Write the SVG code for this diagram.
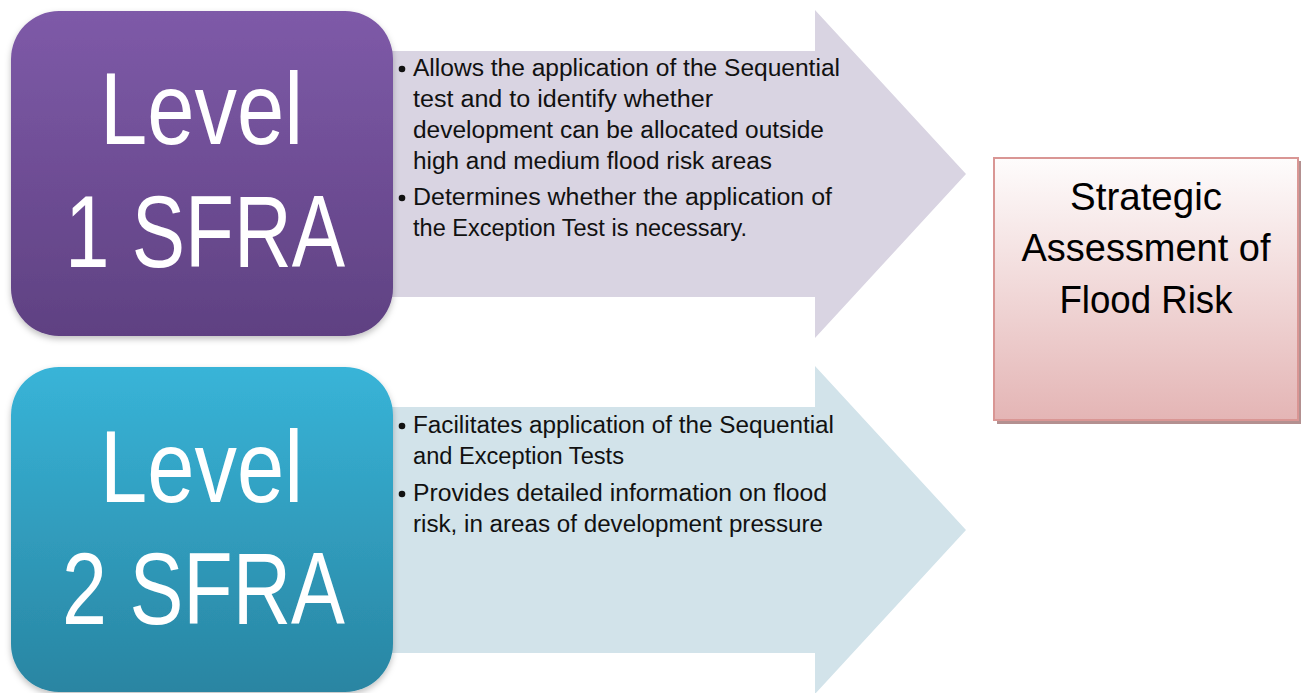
<svg xmlns="http://www.w3.org/2000/svg" width="1305" height="693" viewBox="0 0 1305 693">
  <style>
    .big { font-family: "Liberation Sans", Arial, sans-serif; font-size: 102px; fill: #ffffff; }
    .body { font-family: "Liberation Sans", Arial, sans-serif; font-size: 23px; fill: #111111; }
    .goal { font-family: "Liberation Sans", Arial, sans-serif; font-size: 39px; fill: #000000; text-anchor: middle; }
  </style>
  <defs>
    <linearGradient id="gPurple" x1="0" y1="0" x2="0" y2="1">
      <stop offset="0" stop-color="#7e5aa8"/>
      <stop offset="1" stop-color="#5f4182"/>
    </linearGradient>
    <linearGradient id="gTeal" x1="0" y1="0" x2="0" y2="1">
      <stop offset="0" stop-color="#38b4d8"/>
      <stop offset="1" stop-color="#2985a2"/>
    </linearGradient>
    <linearGradient id="gPink" x1="0" y1="0" x2="0" y2="1">
      <stop offset="0" stop-color="#fefcfc"/>
      <stop offset="1" stop-color="#e4b5b5"/>
    </linearGradient>
    <filter id="soft" x="-10%" y="-10%" width="120%" height="125%">
      <feDropShadow dx="0" dy="3" stdDeviation="3" flood-color="#000000" flood-opacity="0.25"/>
    </filter>
  </defs>

  <g id="connectors">
    <g id="arrow1">
      <path d="M390,51 H815 V10 L966,174 L815,338 V297 H390 Z" fill="#d9d4e2"/>
      <circle cx="402" cy="69" r="3.3" fill="#111"/>
      <text class="body" x="413" y="76" textLength="427" lengthAdjust="spacingAndGlyphs">Allows the application of the Sequential</text>
      <text class="body" x="413" y="107" textLength="300" lengthAdjust="spacingAndGlyphs">test and to identify whether</text>
      <text class="body" x="413" y="138" textLength="411" lengthAdjust="spacingAndGlyphs">development can be allocated outside</text>
      <text class="body" x="413" y="169" textLength="359" lengthAdjust="spacingAndGlyphs">high and medium flood risk areas</text>
      <circle cx="402" cy="198" r="3.3" fill="#111"/>
      <text class="body" x="413" y="205" textLength="419" lengthAdjust="spacingAndGlyphs">Determines whether the application of</text>
      <text class="body" x="413" y="236" textLength="334" lengthAdjust="spacingAndGlyphs">the Exception Test is necessary.</text>
    </g>
    <g id="arrow2">
      <path d="M390,407 H815 V366 L966,530 L815,694 V653 H390 Z" fill="#d2e3ea"/>
      <circle cx="402" cy="426" r="3.3" fill="#111"/>
      <text class="body" x="413" y="433" textLength="421" lengthAdjust="spacingAndGlyphs">Facilitates application of the Sequential</text>
      <text class="body" x="413" y="464" textLength="211" lengthAdjust="spacingAndGlyphs">and Exception Tests</text>
      <circle cx="402" cy="494" r="3.3" fill="#111"/>
      <text class="body" x="413" y="501" textLength="414" lengthAdjust="spacingAndGlyphs">Provides detailed information on flood</text>
      <text class="body" x="413" y="532" textLength="410" lengthAdjust="spacingAndGlyphs">risk, in areas of development pressure</text>
    </g>
  </g>

  <g id="level1">
    <rect x="11" y="11" width="382" height="325" rx="48" ry="48" fill="url(#gPurple)" filter="url(#soft)"/>
    <text class="big" x="100" y="144" textLength="203" lengthAdjust="spacingAndGlyphs">Level</text>
    <text class="big" x="65" y="267" textLength="280" lengthAdjust="spacingAndGlyphs">1 SFRA</text>
  </g>

  <g id="level2">
    <rect x="11" y="367" width="382" height="325" rx="48" ry="48" fill="url(#gTeal)" filter="url(#soft)"/>
    <text class="big" x="100" y="502" textLength="203" lengthAdjust="spacingAndGlyphs">Level</text>
    <text class="big" x="62" y="624" textLength="283" lengthAdjust="spacingAndGlyphs">2 SFRA</text>
  </g>

  <g id="strategic">
    <rect x="997" y="161" width="304" height="263" fill="#b39090"/>
    <rect x="994" y="158" width="304" height="262" fill="url(#gPink)" stroke="#d99694" stroke-width="2"/>
    <text class="goal" x="1146" y="210" textLength="152" lengthAdjust="spacingAndGlyphs">Strategic</text>
    <text class="goal" x="1146" y="261" textLength="249" lengthAdjust="spacingAndGlyphs">Assessment of</text>
    <text class="goal" x="1146" y="313" textLength="173" lengthAdjust="spacingAndGlyphs">Flood Risk</text>
  </g>
</svg>
